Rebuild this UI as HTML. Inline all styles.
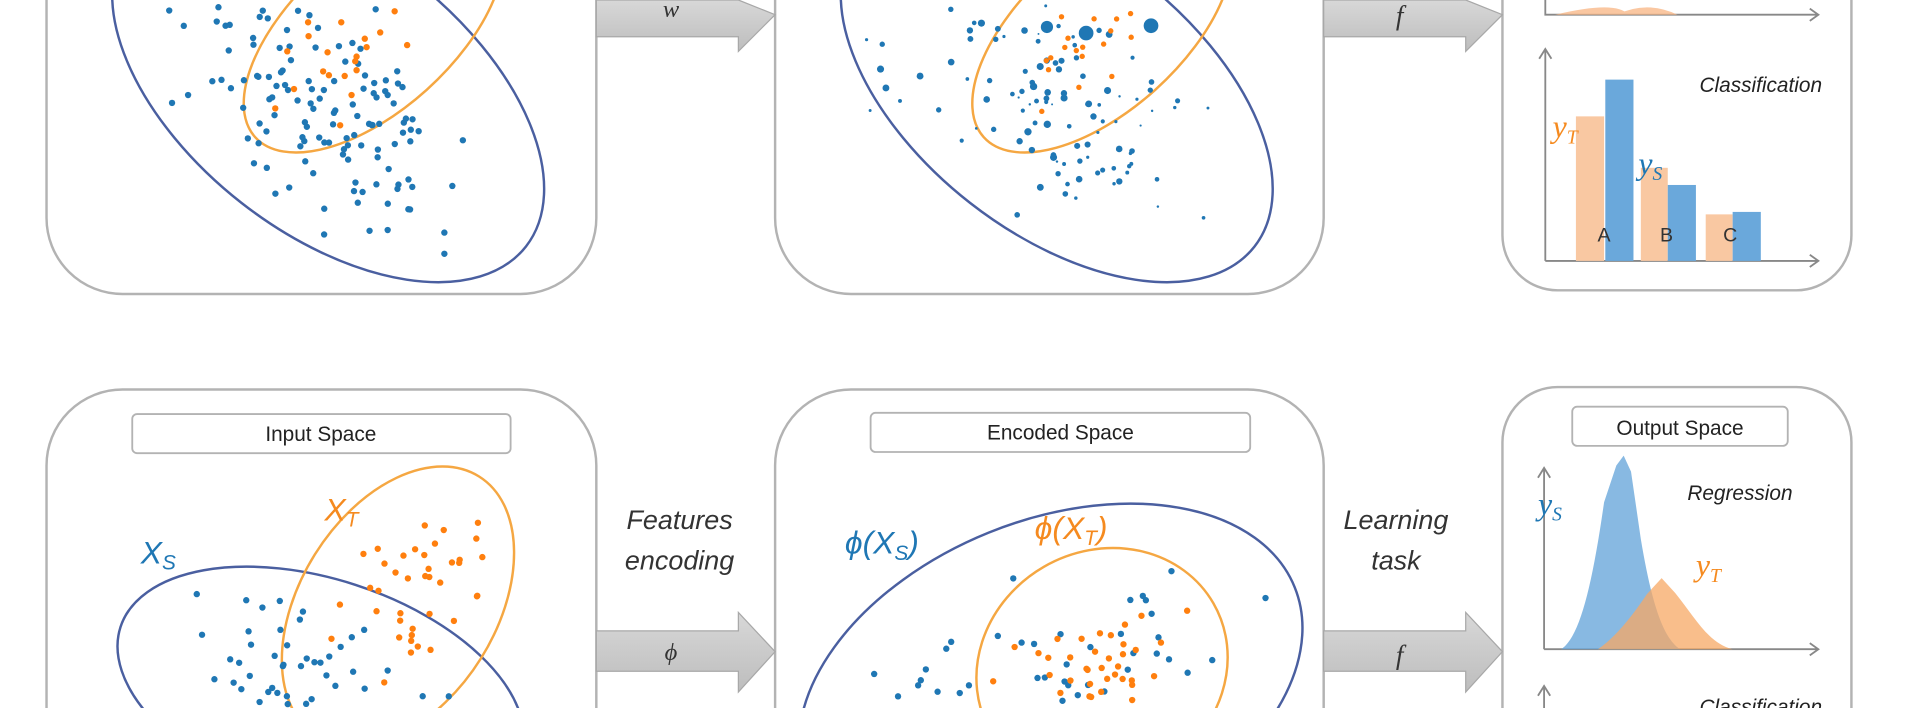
<!DOCTYPE html>
<html><head><meta charset="utf-8"><style>
html,body{margin:0;padding:0;background:#fff;overflow:hidden;width:1920px;height:708px}
svg{display:block;overflow:hidden}
text{font-family:"Liberation Sans",sans-serif}
.m{font-family:"Liberation Serif",serif;font-style:italic}
</style></head><body>
<svg id="s" width="1920" height="708" viewBox="0 0 1568 578" preserveAspectRatio="none" xmlns="http://www.w3.org/2000/svg">
<defs>
<linearGradient id="ag" x1="0" y1="0" x2="0" y2="1"><stop offset="0" stop-color="#d8d8d8"/><stop offset="1" stop-color="#bdbdbd"/></linearGradient>
<clipPath id="cp"><rect x="0" y="0" width="1568" height="578"/></clipPath>
</defs>
<g clip-path="url(#cp)">
<g fill="none" stroke="#b3b3b3" stroke-width="2">
<path d="M38,0 V178 A62,62 0 0 0 100,240 H425 A62,62 0 0 0 487,178 V0"/>
<path d="M633,0 V178 A62,62 0 0 0 695,240 H1019 A62,62 0 0 0 1081,178 V0"/>
<path d="M1227,0 V192 A45,45 0 0 0 1272,237 H1467 A45,45 0 0 0 1512,192 V0"/>
<path d="M38,578 V380 A62,62 0 0 1 100,318 H425 A62,62 0 0 1 487,380 V578"/>
<path d="M633,578 V380 A62,62 0 0 1 695,318 H1019 A62,62 0 0 1 1081,380 V578"/>
<path d="M1227,578 V361 A45,45 0 0 1 1272,316 H1467 A45,45 0 0 1 1512,361 V578"/>
</g>
<g fill="url(#ag)" stroke="#a8a8a8" stroke-width="1">
<path d="M487,0 H603 V0 L633,12 L603,42 V30 H487Z"/>
<path d="M1081,0 H1197 V0 L1227,12 L1197,42 V30 H1081Z"/>
<path d="M487,515 H603 V500 L633,532 L603,565 V548 H487Z"/>
<path d="M1081,515 H1197 V500 L1227,532 L1197,565 V548 H1081Z"/>
</g>
<text x="548" y="14" class="m" font-size="20" fill="#333" text-anchor="middle">w</text>
<text x="1143" y="20" class="m" font-size="22" fill="#333" text-anchor="middle">f</text>
<text x="548" y="539" class="m" font-size="20" fill="#333" text-anchor="middle">ϕ</text>
<text x="1143" y="542" class="m" font-size="22" fill="#333" text-anchor="middle">f</text>
<g font-style="italic" font-size="22" fill="#333" text-anchor="middle">
<text x="555" y="432">Features</text><text x="555" y="465">encoding</text>
<text x="1140" y="432">Learning</text><text x="1140" y="465">task</text>
</g>
<g fill="#fff" stroke="#b3b3b3" stroke-width="1.5">
<rect x="108" y="338" width="309" height="32" rx="4"/>
<rect x="711" y="337" width="310" height="32" rx="4"/>
<rect x="1284" y="332" width="176" height="32" rx="4"/>
</g>
<g font-size="17" fill="#222" text-anchor="middle">
<text x="262" y="360">Input Space</text>
<text x="866" y="359">Encoded Space</text>
<text x="1372" y="355">Output Space</text>
</g>
<g fill="none" stroke-width="2">
<ellipse cx="268" cy="75" rx="205" ry="115" transform="rotate(38 268 75)" stroke="#4a5fa0"/>
<ellipse cx="305" cy="25" rx="130" ry="65" transform="rotate(-42 305 25)" stroke="#f5a742"/>
<ellipse cx="863" cy="75" rx="205" ry="115" transform="rotate(38 863 75)" stroke="#4a5fa0"/>
<ellipse cx="900" cy="25" rx="130" ry="65" transform="rotate(-42 900 25)" stroke="#f5a742"/>
<ellipse cx="262" cy="565" rx="172" ry="92" transform="rotate(18 262 565)" stroke="#4a5fa0"/>
<ellipse cx="325" cy="495" rx="125" ry="80" transform="rotate(-58 325 495)" stroke="#f5a742"/>
<ellipse cx="858" cy="560" rx="215" ry="135" transform="rotate(-22 858 560)" stroke="#4a5fa0"/>
<ellipse cx="900" cy="545" rx="105" ry="95" transform="rotate(-30 900 545)" stroke="#f5a742"/>
</g>
<g class="m" font-size="26">
<text x="115" y="460" fill="#1f77b4">X<tspan font-size="17" dy="5">S</tspan></text>
<text x="265" y="425" fill="#f58a1f">X<tspan font-size="17" dy="5">T</tspan></text>
<text x="690" y="452" fill="#1f77b4">ϕ(X<tspan font-size="17" dy="5">S</tspan><tspan dy="-5">)</tspan></text>
<text x="845" y="440" fill="#f58a1f">ϕ(X<tspan font-size="17" dy="5">T</tspan><tspan dy="-5">)</tspan></text>
</g>
<g id="dots"></g>
<g stroke="#888" stroke-width="1.5" fill="none">
<path d="M1262,0 V12 H1485 M1478,7 L1485,12 L1478,17"/>
<path d="M1262,213 V40 M1257,48 L1262,40 L1267,48 M1262,213 H1485 M1478,208 L1485,213 L1478,218"/>
<path d="M1261,530 V382 M1256,390 L1261,382 L1266,390 M1261,530 H1485 M1478,525 L1485,530 L1478,535"/>
<path d="M1261,578 V560 M1256,568 L1261,560 L1266,568"/>
</g>
<path d="M1270,12 Q1320,0 1330,12Z M1320,12 Q1345,0 1370,12Z" fill="#f9b98a" opacity=".8"/>
<g>
<rect x="1287" y="95" width="23" height="118" fill="#f9c8a2"/>
<rect x="1311" y="65" width="23" height="148" fill="#6aa8db"/>
<rect x="1340" y="137" width="22" height="76" fill="#f9c8a2"/>
<rect x="1362" y="151" width="23" height="62" fill="#6aa8db"/>
<rect x="1393" y="175" width="22" height="38" fill="#f9c8a2"/>
<rect x="1415" y="173" width="23" height="40" fill="#6aa8db"/>
</g>
<g font-size="16" fill="#333" text-anchor="middle"><text x="1310" y="197">A</text><text x="1361" y="197">B</text><text x="1413" y="197">C</text></g>
<text x="1488" y="75" font-style="italic" font-size="17" fill="#222" text-anchor="end">Classification</text>
<text x="1268" y="112" class="m" font-size="26" fill="#f58a1f">y<tspan font-size="16" dy="5">T</tspan></text>
<text x="1338" y="142" class="m" font-size="26" fill="#1f77b4">y<tspan font-size="16" dy="5">S</tspan></text>
<path d="M1275,530 C1290,520 1300,480 1310,410 L1320,380 L1326,372 L1332,385 L1340,440 C1350,500 1360,522 1372,530Z" fill="#6aa8db" opacity=".8"/>
<path d="M1305,530 C1320,520 1335,500 1345,485 L1357,472 L1368,484 C1385,505 1395,525 1415,530Z" fill="#f7a864" opacity=".75"/>
<text x="1378" y="408" font-style="italic" font-size="17" fill="#222">Regression</text>
<text x="1256" y="420" class="m" font-size="26" fill="#1f77b4">y<tspan font-size="16" dy="5">S</tspan></text>
<text x="1385" y="470" class="m" font-size="26" fill="#f58a1f">y<tspan font-size="16" dy="5">T</tspan></text>
<text x="1488" y="583" font-style="italic" font-size="17" fill="#222" text-anchor="end">Classification</text>
</g>
</svg>
<script>
(function(){
var seed=7;function r(){seed=(seed*16807)%2147483647;return (seed-1)/2147483646;}
function g(){return (r()+r()+r()-1.5)/1.5;}
var out=[];
function cloud(cx,cy,sx,sy,rot,n,col,rad,x0,x1,y0,y1,vr){
 var c=Math.cos(rot),s=Math.sin(rot);
 for(var i=0;i<n;i++){var a=g()*sx,b=g()*sy;var x=cx+a*c-b*s,y=cy+a*s+b*c;
 if(x<x0||x>x1||y<y0||y>y1)continue;var rr=rad;if(vr)rr=rad*(0.4+r()*1.1);
 out.push('<circle cx="'+x.toFixed(1)+'" cy="'+y.toFixed(1)+'" r="'+rr.toFixed(1)+'" fill="'+col+'"/>');}
}
var B="#1f77b4",O="#ff7f0e";
cloud(260,80,190,110,0.6,140,B,2.6,50,470,3,225);
cloud(285,40,90,55,-0.7,24,O,2.6,50,470,3,225);
cloud(855,80,190,110,0.6,110,B,2.0,645,1065,3,225,1);
cloud(880,40,90,55,-0.7,20,O,2.2,645,1065,3,225);
cloud(250,560,190,80,0.3,60,B,2.6,50,470,380,575);
cloud(335,480,110,80,-1.0,40,O,2.6,50,470,380,575);
cloud(860,570,210,120,-0.4,90,B,2.6,645,1065,400,575);
cloud(900,550,100,80,-0.5,45,O,2.6,645,1065,400,575);
out.push('<circle cx="887" cy="27" r="6" fill="'+B+'"/><circle cx="940" cy="21" r="6" fill="'+B+'"/><circle cx="855" cy="22" r="5" fill="'+B+'"/>');
document.getElementById('dots').innerHTML=out.join('');
})();
</script>
</body></html>
